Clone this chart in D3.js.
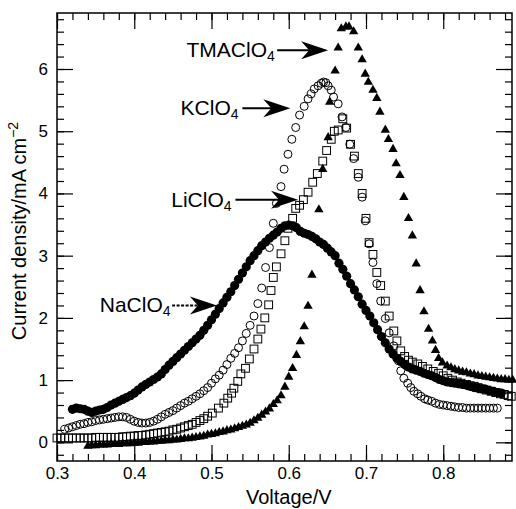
<!DOCTYPE html>
<html>
<head>
<meta charset="utf-8">
<script src="https://cdn.jsdelivr.net/npm/d3@7"></script>
<style>
  body { margin: 0; background: #fff; }
  text { font-family: "Liberation Sans", Arial, Helvetica, sans-serif; fill: #000; }
</style>
</head>
<body>
<div id="chart"></div>
<script>
// data: [voltage V, current density mA cm-2]
var tmaData = [[0.340,-0.06],[0.345,-0.05],[0.350,-0.05],[0.355,-0.04],[0.360,-0.04],[0.365,-0.04],[0.370,-0.03],[0.375,-0.03],[0.380,-0.03],[0.385,-0.02],[0.390,-0.02],[0.395,-0.02],[0.400,-0.01],[0.405,-0.01],[0.410,0.00],[0.415,0.00],[0.420,0.01],[0.425,0.01],[0.430,0.02],[0.435,0.02],[0.440,0.03],[0.445,0.03],[0.450,0.04],[0.455,0.04],[0.460,0.05],[0.465,0.06],[0.470,0.06],[0.475,0.07],[0.480,0.08],[0.485,0.09],[0.490,0.10],[0.495,0.12],[0.500,0.13],[0.505,0.14],[0.510,0.16],[0.515,0.17],[0.520,0.19],[0.525,0.20],[0.530,0.22],[0.535,0.24],[0.540,0.26],[0.545,0.28],[0.550,0.31],[0.555,0.35],[0.560,0.39],[0.565,0.44],[0.570,0.49],[0.575,0.54],[0.580,0.61],[0.585,0.67],[0.590,0.75],[0.595,0.89],[0.600,1.05],[0.605,1.19],[0.610,1.40],[0.615,1.62],[0.620,1.86],[0.625,2.19],[0.630,2.69],[0.639,3.74],[0.644,4.39],[0.651,4.90],[0.653,5.47],[0.660,5.97],[0.664,6.34],[0.668,6.65],[0.674,6.68],[0.678,6.68],[0.684,6.60],[0.690,6.34],[0.695,6.15],[0.699,5.92],[0.703,5.79],[0.709,5.66],[0.714,5.53],[0.718,5.31],[0.725,5.02],[0.729,4.87],[0.735,4.71],[0.739,4.48],[0.744,4.29],[0.749,3.94],[0.755,3.60],[0.760,3.32],[0.765,2.87],[0.770,2.44],[0.775,2.10],[0.781,1.82],[0.786,1.63],[0.790,1.48],[0.794,1.35],[0.799,1.28],[0.805,1.23],[0.810,1.20],[0.815,1.17],[0.820,1.15],[0.825,1.13],[0.830,1.12],[0.835,1.10],[0.840,1.09],[0.845,1.07],[0.850,1.06],[0.855,1.05],[0.860,1.04],[0.865,1.03],[0.870,1.02],[0.875,1.01],[0.880,1.01],[0.885,1.00],[0.890,1.00]];

var kData = [[0.310,0.21],[0.315,0.23],[0.320,0.25],[0.325,0.27],[0.330,0.29],[0.335,0.30],[0.340,0.32],[0.345,0.33],[0.350,0.35],[0.355,0.36],[0.360,0.37],[0.365,0.38],[0.370,0.39],[0.375,0.40],[0.380,0.41],[0.385,0.41],[0.390,0.40],[0.395,0.37],[0.400,0.34],[0.405,0.32],[0.410,0.31],[0.415,0.31],[0.420,0.32],[0.425,0.34],[0.430,0.37],[0.435,0.41],[0.440,0.45],[0.445,0.48],[0.450,0.51],[0.455,0.55],[0.460,0.59],[0.465,0.63],[0.470,0.66],[0.475,0.70],[0.480,0.74],[0.485,0.78],[0.490,0.83],[0.495,0.88],[0.500,0.95],[0.505,1.02],[0.510,1.08],[0.515,1.16],[0.520,1.25],[0.525,1.35],[0.530,1.43],[0.535,1.52],[0.540,1.63],[0.545,1.75],[0.550,1.88],[0.555,2.03],[0.560,2.23],[0.565,2.48],[0.570,2.81],[0.575,3.13],[0.580,3.52],[0.584,3.84],[0.590,4.11],[0.594,4.39],[0.599,4.63],[0.604,4.87],[0.609,5.06],[0.614,5.26],[0.620,5.40],[0.625,5.52],[0.629,5.60],[0.633,5.68],[0.638,5.73],[0.642,5.77],[0.645,5.79],[0.648,5.78],[0.651,5.73],[0.655,5.66],[0.658,5.55],[0.664,5.44],[0.669,5.23],[0.674,5.06],[0.679,4.79],[0.684,4.56],[0.690,4.26],[0.695,3.94],[0.699,3.56],[0.704,3.19],[0.709,2.89],[0.714,2.55],[0.719,2.27],[0.725,1.99],[0.730,1.76],[0.736,1.55],[0.742,1.31],[0.745,1.15],[0.749,1.03],[0.754,0.95],[0.758,0.88],[0.762,0.82],[0.767,0.78],[0.771,0.74],[0.776,0.70],[0.780,0.68],[0.785,0.66],[0.790,0.63],[0.795,0.61],[0.800,0.60],[0.805,0.59],[0.810,0.58],[0.815,0.57],[0.820,0.56],[0.825,0.56],[0.830,0.55],[0.835,0.55],[0.840,0.55],[0.845,0.55],[0.850,0.55],[0.855,0.55],[0.860,0.55],[0.865,0.55],[0.870,0.55]];

var liData = [[0.300,0.07],[0.305,0.07],[0.310,0.07],[0.315,0.07],[0.320,0.07],[0.325,0.07],[0.330,0.07],[0.335,0.07],[0.340,0.07],[0.345,0.07],[0.350,0.08],[0.355,0.08],[0.360,0.08],[0.365,0.08],[0.370,0.08],[0.375,0.08],[0.380,0.08],[0.385,0.09],[0.390,0.09],[0.395,0.10],[0.400,0.10],[0.405,0.11],[0.410,0.11],[0.415,0.12],[0.420,0.13],[0.425,0.14],[0.430,0.15],[0.435,0.16],[0.440,0.17],[0.445,0.18],[0.450,0.20],[0.455,0.21],[0.460,0.23],[0.465,0.25],[0.470,0.27],[0.475,0.29],[0.480,0.32],[0.485,0.35],[0.490,0.38],[0.495,0.42],[0.501,0.47],[0.509,0.55],[0.516,0.63],[0.521,0.71],[0.526,0.79],[0.529,0.87],[0.534,0.98],[0.538,1.10],[0.544,1.19],[0.549,1.34],[0.555,1.50],[0.560,1.66],[0.564,1.82],[0.569,2.00],[0.574,2.21],[0.577,2.44],[0.580,2.65],[0.584,2.82],[0.590,3.03],[0.595,3.24],[0.599,3.44],[0.605,3.60],[0.609,3.76],[0.614,3.81],[0.619,3.90],[0.625,4.02],[0.631,4.18],[0.637,4.32],[0.644,4.52],[0.649,4.69],[0.655,4.87],[0.659,5.00],[0.664,5.02],[0.670,5.20],[0.675,5.05],[0.680,4.79],[0.685,4.60],[0.690,4.32],[0.695,4.00],[0.700,3.60],[0.704,3.21],[0.709,3.02],[0.714,2.73],[0.719,2.52],[0.725,2.27],[0.730,2.03],[0.736,1.79],[0.740,1.63],[0.745,1.47],[0.750,1.38],[0.755,1.32],[0.760,1.29],[0.767,1.26],[0.773,1.22],[0.780,1.18],[0.787,1.14],[0.794,1.11],[0.800,1.07],[0.806,1.03],[0.812,1.00],[0.818,0.97],[0.823,0.95],[0.830,0.93],[0.835,0.91],[0.840,0.90],[0.845,0.88],[0.850,0.86],[0.856,0.84],[0.862,0.82],[0.868,0.80],[0.874,0.78],[0.879,0.77],[0.884,0.75],[0.888,0.74]];

var naData = [[0.320,0.53],[0.325,0.55],[0.330,0.54],[0.335,0.53],[0.340,0.50],[0.345,0.48],[0.350,0.50],[0.355,0.52],[0.360,0.53],[0.365,0.56],[0.370,0.60],[0.375,0.63],[0.380,0.66],[0.385,0.69],[0.390,0.72],[0.395,0.75],[0.400,0.79],[0.405,0.84],[0.410,0.89],[0.415,0.93],[0.420,0.97],[0.425,1.01],[0.430,1.05],[0.435,1.10],[0.440,1.17],[0.445,1.24],[0.450,1.30],[0.455,1.36],[0.460,1.42],[0.465,1.48],[0.470,1.54],[0.475,1.60],[0.480,1.66],[0.485,1.72],[0.490,1.80],[0.495,1.88],[0.500,1.97],[0.505,2.06],[0.510,2.15],[0.515,2.24],[0.520,2.33],[0.525,2.42],[0.530,2.52],[0.535,2.62],[0.540,2.72],[0.545,2.82],[0.550,2.92],[0.555,3.00],[0.560,3.08],[0.565,3.16],[0.570,3.22],[0.575,3.28],[0.580,3.33],[0.585,3.38],[0.590,3.44],[0.595,3.48],[0.600,3.49],[0.605,3.48],[0.610,3.45],[0.615,3.39],[0.620,3.36],[0.625,3.34],[0.630,3.31],[0.635,3.27],[0.640,3.22],[0.645,3.18],[0.650,3.12],[0.655,3.06],[0.660,3.00],[0.665,2.88],[0.670,2.78],[0.675,2.67],[0.680,2.55],[0.685,2.45],[0.690,2.34],[0.695,2.22],[0.700,2.12],[0.705,2.03],[0.710,1.92],[0.715,1.81],[0.720,1.70],[0.725,1.60],[0.730,1.50],[0.735,1.42],[0.740,1.35],[0.745,1.30],[0.750,1.25],[0.755,1.21],[0.760,1.18],[0.765,1.16],[0.770,1.14],[0.775,1.11],[0.780,1.09],[0.785,1.07],[0.790,1.04],[0.795,1.01],[0.800,0.99],[0.805,0.97],[0.810,0.96],[0.815,0.95],[0.820,0.94],[0.825,0.93],[0.830,0.92],[0.835,0.90],[0.840,0.88],[0.845,0.87],[0.850,0.86],[0.855,0.85],[0.860,0.83],[0.865,0.82],[0.870,0.80],[0.875,0.79]];

var xTicks = [0.3, 0.4, 0.5, 0.6, 0.7, 0.8];
var yTicks = [0, 1, 2, 3, 4, 5, 6];

// label, text end x, arrow start x, arrow tip x, y (data units), dashed line?
var notes = [
  ["TMAClO", 0.582, 0.585, 0.651, 6.30, false],
  ["KClO", 0.535, 0.540, 0.602, 5.37, false],
  ["LiClO", 0.526, 0.531, 0.612, 3.90, false],
  ["NaClO", 0.447, 0.449, 0.507, 2.20, true]
];

var svgWidth = 516, svgHeight = 509;
var margin = {top: 13, right: 4, bottom: 48, left: 57};
var width = svgWidth - margin.left - margin.right;
var height = svgHeight - margin.top - margin.bottom;

var svg = d3.select("#chart").append("svg")
  .attr("width", svgWidth)
  .attr("height", svgHeight);

var g = svg.append("g")
  .attr("transform", `translate(${margin.left}, ${margin.top})`);

var x = d3.scaleLinear().domain([0.3, 0.889]).range([0, width]);
var y = d3.scaleLinear().domain([-0.3, 6.9]).range([height, 0]);

var xMinor = d3.range(0.3, 0.89, 0.02);
var yMinor = d3.range(-0.2, 6.9, 0.2);

function styleAxis(sel) {
  sel.select(".domain").remove();
  sel.selectAll("line").attr("stroke", "#000").attr("stroke-width", 1.2);
  sel.selectAll("text").style("font-size", "17px").attr("fill", "#000");
}

// minor ticks, all four sides, pointing in
g.append("g").attr("transform", `translate(0,${height})`)
  .call(d3.axisBottom(x).tickValues(xMinor).tickSize(-7).tickFormat(""))
  .call(styleAxis);
g.append("g")
  .call(d3.axisTop(x).tickValues(xMinor).tickSize(-7).tickFormat(""))
  .call(styleAxis);
g.append("g")
  .call(d3.axisLeft(y).tickValues(yMinor).tickSize(-7).tickFormat(""))
  .call(styleAxis);
g.append("g").attr("transform", `translate(${width},0)`)
  .call(d3.axisRight(y).tickValues(yMinor).tickSize(-7).tickFormat(""))
  .call(styleAxis);

// major ticks
g.append("g").attr("transform", `translate(0,${height})`)
  .call(d3.axisBottom(x).tickValues(xTicks).tickSize(-16).tickPadding(6).tickFormat(d3.format(".1f")))
  .call(styleAxis);
g.append("g")
  .call(d3.axisTop(x).tickValues(xTicks).tickSize(-16).tickFormat(""))
  .call(styleAxis);
g.append("g")
  .call(d3.axisLeft(y).tickValues(yTicks).tickSize(-16).tickPadding(9).tickFormat(d3.format("d")))
  .call(styleAxis);
g.append("g").attr("transform", `translate(${width},0)`)
  .call(d3.axisRight(y).tickValues(yTicks).tickSize(-16).tickFormat(""))
  .call(styleAxis);

// frame
g.append("rect")
  .attr("width", width).attr("height", height)
  .attr("fill", "none").attr("stroke", "#000").attr("stroke-width", 1.5);

var plot = g.append("g");

// TMAClO4 filled triangles
plot.selectAll(".tma").data(tmaData).enter().append("path")
  .attr("class", "tma")
  .attr("transform", d => `translate(${x(d[0])},${y(d[1])})`)
  .attr("d", d3.symbol().type(d3.symbolTriangle).size(38))
  .attr("fill", "#000");

// NaClO4 filled circles
plot.selectAll(".na").data(naData).enter().append("circle")
  .attr("class", "na")
  .attr("cx", d => x(d[0]))
  .attr("cy", d => y(d[1]))
  .attr("r", 4.6)
  .attr("fill", "#000");

// LiClO4 open squares
plot.selectAll(".li").data(liData).enter().append("rect")
  .attr("class", "li")
  .attr("x", d => x(d[0]) - 3.9)
  .attr("y", d => y(d[1]) - 3.9)
  .attr("width", 7.8).attr("height", 7.8)
  .attr("fill", "none").attr("stroke", "#000").attr("stroke-width", 1);

// KClO4 open circles
plot.selectAll(".k").data(kData).enter().append("circle")
  .attr("class", "k")
  .attr("cx", d => x(d[0]))
  .attr("cy", d => y(d[1]))
  .attr("r", 4)
  .attr("fill", "none").attr("stroke", "#000").attr("stroke-width", 1);

// labels with arrows
notes.forEach(function(n) {
  var ty = y(n[4]);
  var t = g.append("text")
    .attr("x", x(n[1]))
    .attr("y", ty + 7)
    .attr("text-anchor", "end")
    .style("font-size", "21px");
  t.append("tspan").text(n[0]);
  t.append("tspan").text("4").attr("dy", 4).style("font-size", "14px");

  var x0 = x(n[2]), x1 = x(n[3]);
  g.append("line")
    .attr("x1", x0).attr("x2", x1 - 12)
    .attr("y1", ty).attr("y2", ty)
    .attr("stroke", "#000").attr("stroke-width", 2)
    .attr("stroke-dasharray", n[5] ? "3,1.5" : null);
  g.append("path")
    .attr("d", `M${x1},${ty} L${x1 - 27},${ty - 9} L${x1 - 19},${ty} L${x1 - 27},${ty + 9} Z`)
    .attr("fill", "#000");
});

// axis titles
svg.append("text")
  .attr("x", margin.left + x(0.6))
  .attr("y", 504)
  .attr("text-anchor", "middle")
  .style("font-size", "20px")
  .text("Voltage/V");

var yt = svg.append("text")
  .attr("transform", `translate(26, ${margin.top + height / 2 - 6}) rotate(-90)`)
  .attr("text-anchor", "middle")
  .style("font-size", "20px");
yt.append("tspan").text("Current density/mA cm");
yt.append("tspan").text("\u22122").attr("dy", -8).style("font-size", "14px");
</script>
</body>
</html>
